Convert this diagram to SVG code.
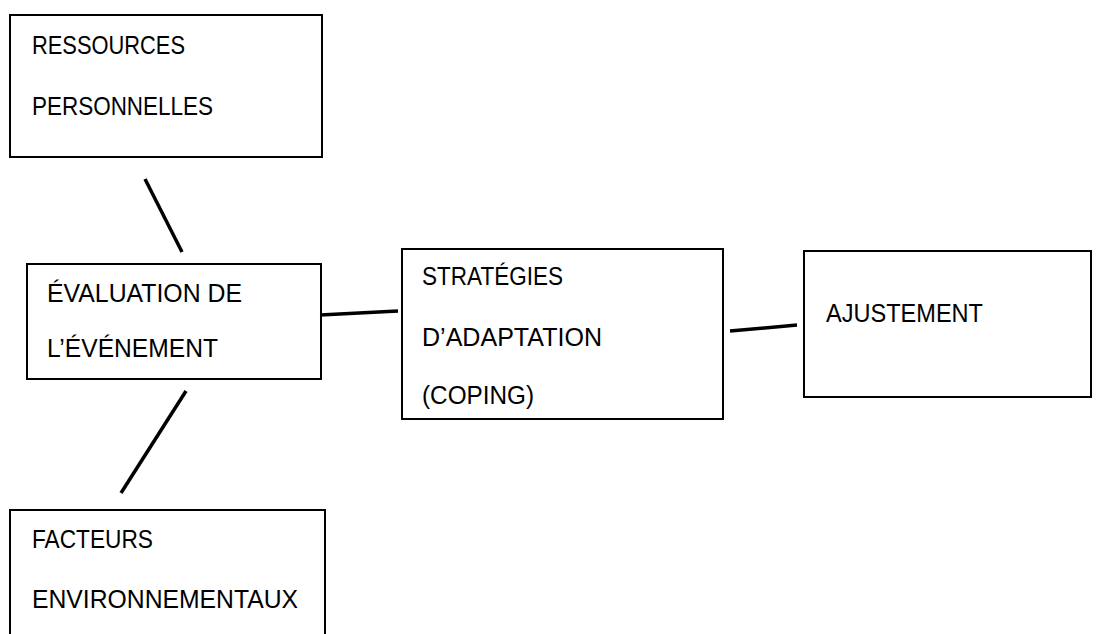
<svg xmlns="http://www.w3.org/2000/svg" width="1097" height="634" viewBox="0 0 1097 634">
<style>
.box{fill:#fff;stroke:#000;stroke-width:2}
.t{font-family:"Liberation Sans",Arial,sans-serif;font-size:25px;fill:#000}
.c{stroke:#000;stroke-width:3.5;fill:none}
</style>
<rect width="1097" height="634" fill="#fff"/>
<g id="ressources">
<rect class="box" x="10" y="15" width="312" height="142"/>
<text class="t" x="32" y="54" textLength="153" lengthAdjust="spacingAndGlyphs">RESSOURCES</text>
<text class="t" x="32" y="115" textLength="181" lengthAdjust="spacingAndGlyphs">PERSONNELLES</text>
</g>
<g id="evaluation">
<rect class="box" x="27" y="264" width="294" height="115"/>
<text class="t" x="47" y="302" textLength="195" lengthAdjust="spacingAndGlyphs">ÉVALUATION DE</text>
<text class="t" x="47" y="357" textLength="171" lengthAdjust="spacingAndGlyphs">L’ÉVÉNEMENT</text>
</g>
<g id="strategies">
<rect class="box" x="402" y="249" width="321" height="170"/>
<text class="t" x="422" y="285" textLength="141" lengthAdjust="spacingAndGlyphs">STRATÉGIES</text>
<text class="t" x="422" y="346" textLength="180" lengthAdjust="spacingAndGlyphs">D’ADAPTATION</text>
<text class="t" x="422" y="404" textLength="112" lengthAdjust="spacingAndGlyphs">(COPING)</text>
</g>
<g id="ajustement">
<rect class="box" x="804" y="251" width="287" height="146"/>
<text class="t" x="826" y="322" textLength="157" lengthAdjust="spacingAndGlyphs">AJUSTEMENT</text>
</g>
<g id="facteurs">
<rect class="box" x="10" y="510" width="315" height="140"/>
<text class="t" x="32" y="548" textLength="121" lengthAdjust="spacingAndGlyphs">FACTEURS</text>
<text class="t" x="32" y="608" textLength="266" lengthAdjust="spacingAndGlyphs">ENVIRONNEMENTAUX</text>
</g>
<g id="connectors">
<line class="c" x1="145" y1="179" x2="182" y2="252"/>
<line class="c" x1="320" y1="315" x2="398" y2="311"/>
<line class="c" x1="730" y1="331" x2="797" y2="325"/>
<line class="c" x1="186" y1="391" x2="121" y2="493"/>
</g>
</svg>
